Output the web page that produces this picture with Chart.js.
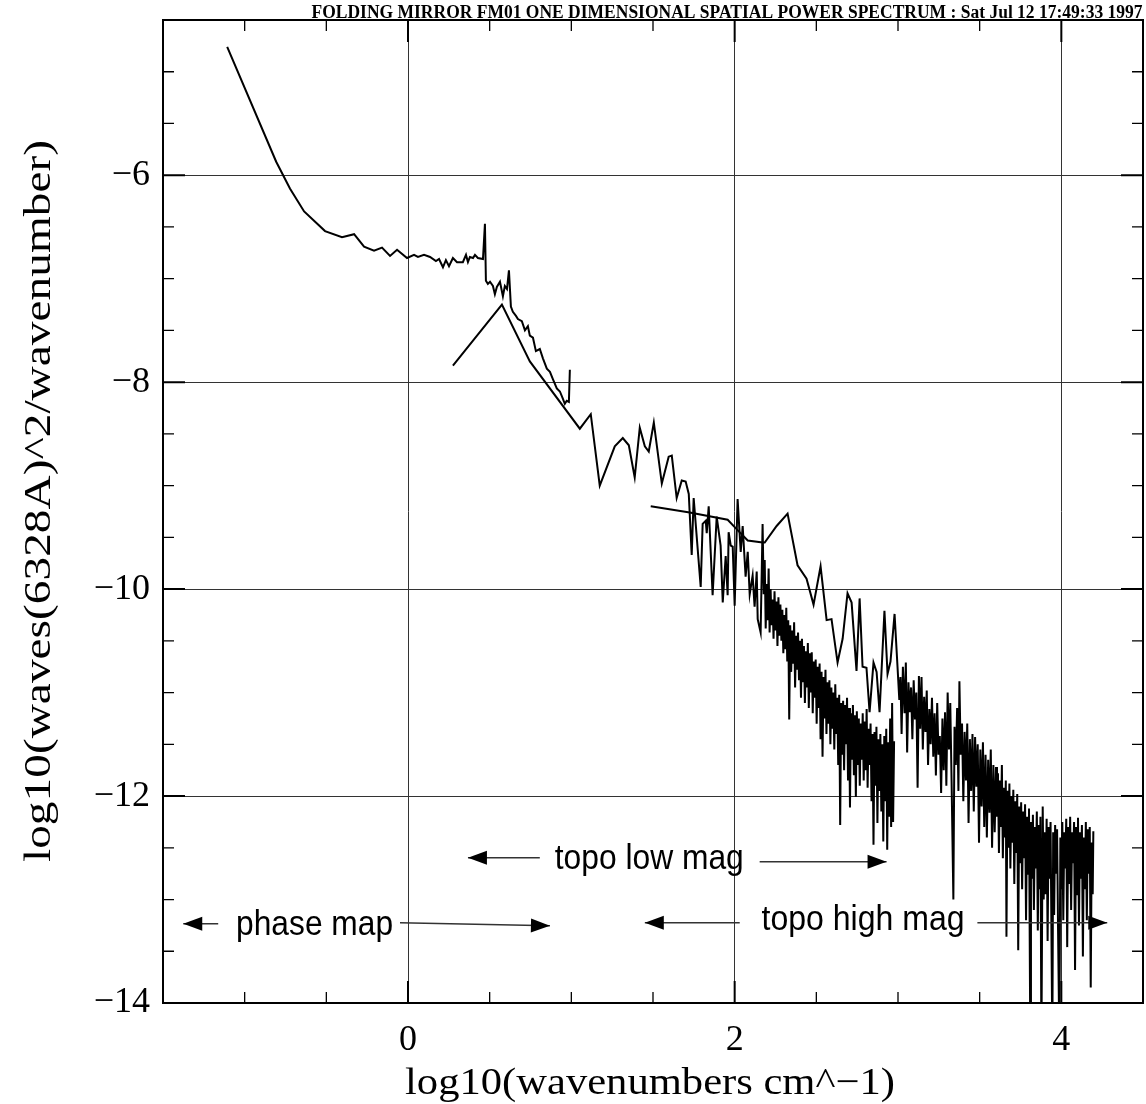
<!DOCTYPE html>
<html>
<head>
<meta charset="utf-8">
<title>FM01 spatial power spectrum</title>
<script src="https://cdn.jsdelivr.net/npm/chart.js@4.4.0/dist/chart.umd.min.js"></script>
<style>
  html, body { margin: 0; padding: 0; background: #fff; }
  #wrap { width: 1146px; height: 1104px; position: relative; }
</style>
</head>
<body>
<div id="wrap"><canvas id="spectrum"></canvas></div>
<script>
// [log10(wavenumber), log10(power)]
const phaseMap = [
  [-1.107,-4.76],[-0.807,-5.87],[-0.722,-6.13],[-0.636,-6.35],[-0.508,-6.54],[-0.404,-6.60],[-0.330,-6.57],
  [-0.269,-6.69],[-0.208,-6.73],[-0.159,-6.70],[-0.110,-6.78],[-0.067,-6.72],[-0.006,-6.80],[0.037,-6.77],
  [0.061,-6.79],[0.098,-6.77],[0.135,-6.79],[0.171,-6.83],[0.190,-6.81],[0.214,-6.89],[0.232,-6.82],
  [0.251,-6.88],[0.275,-6.80],[0.300,-6.84],[0.336,-6.84],[0.355,-6.77],[0.367,-6.84],[0.379,-6.79],
  [0.398,-6.80],[0.410,-6.77],[0.428,-6.80],[0.459,-6.81],[0.471,-6.47],[0.477,-7.02],[0.489,-7.05],
  [0.502,-7.03],[0.520,-7.07],[0.532,-7.15],[0.544,-7.08],[0.563,-7.03],[0.581,-7.17],[0.593,-7.07],
  [0.606,-7.10],[0.618,-6.92],[0.630,-7.27],[0.642,-7.32],[0.661,-7.36],[0.673,-7.39],[0.697,-7.41],
  [0.716,-7.50],[0.734,-7.46],[0.746,-7.55],[0.765,-7.57],[0.783,-7.70],[0.807,-7.68],[0.826,-7.77],
  [0.850,-7.87],[0.869,-7.90],[0.887,-7.97],[0.911,-8.06],[0.930,-8.09],[0.948,-8.16],[0.960,-8.21],
  [0.972,-8.18],[0.985,-8.19],[0.991,-7.88]
];

const topoLowMag = [
  [0.275,-7.84],[0.575,-7.25],[0.746,-7.80],[1.052,-8.45],[1.119,-8.31],[1.174,-9.00],[1.266,-8.62],
  [1.315,-8.54],[1.352,-8.61],[1.388,-8.92],[1.419,-8.44],[1.450,-8.62],[1.474,-8.67],[1.505,-8.39],
  [1.554,-8.98],[1.596,-8.72],[1.615,-8.71],[1.645,-9.12],[1.676,-8.95],[1.700,-8.96],[1.719,-9.08],
  [1.737,-9.67],[1.749,-9.12],[1.792,-9.98],[1.804,-9.37],[1.823,-9.34],[1.829,-9.46],[1.841,-9.20],
  [1.865,-10.06],[1.890,-9.30],[1.914,-9.58],[1.927,-10.13],[1.945,-9.68],[1.957,-10.06],[1.963,-9.45],
  [1.976,-9.58],[1.988,-9.59],[2.000,-10.16],[2.018,-9.13],[2.037,-9.64],[2.049,-9.39],[2.067,-9.88],
  [2.080,-9.64],[2.092,-10.05],[2.110,-9.87],[2.122,-10.17],[2.135,-9.83],[2.141,-10.29],[2.159,-10.42],
  [2.171,-9.37],[2.178,-10.05],[2.184,-9.72],[2.190,-10.38],[2.196,-9.95],[2.202,-10.30],[2.208,-9.80],
  [2.214,-10.42],[2.220,-10.00],[2.226,-10.35],[2.232,-10.10],[2.238,-10.48],[2.244,-10.02],[2.250,-10.40],
  [2.256,-10.12],[2.262,-10.55],[2.268,-10.08],[2.274,-10.45],[2.280,-10.15],[2.286,-10.50],[2.292,-10.20],
  [2.298,-10.62],[2.304,-10.25],[2.310,-10.58],[2.316,-10.18],[2.322,-10.70],[2.328,-10.30],[2.334,-11.26],
  [2.340,-10.35],[2.346,-10.80],[2.352,-10.40],[2.358,-10.72],[2.364,-10.32],[2.370,-10.95],[2.376,-10.45],
  [2.382,-10.78],[2.388,-10.42],[2.394,-10.88],[2.400,-10.50],[2.406,-11.05],[2.412,-10.48],[2.418,-10.90],
  [2.424,-10.55],[2.430,-11.10],[2.436,-10.60],[2.442,-10.95],[2.448,-10.52],[2.454,-11.15],[2.460,-10.62],
  [2.466,-11.00],[2.472,-10.61],[2.478,-11.20],[2.484,-10.70],[2.490,-11.05],[2.496,-10.68],[2.502,-11.30],
  [2.508,-10.75],[2.514,-11.15],[2.520,-10.72],[2.526,-11.45],[2.532,-10.80],[2.538,-11.62],[2.544,-10.85],
  [2.550,-11.25],[2.556,-10.78],[2.562,-11.40],[2.568,-10.90],[2.574,-11.30],[2.580,-10.88],[2.586,-11.50],
  [2.592,-10.95],[2.598,-11.35],[2.604,-11.00],[2.610,-11.55],[2.616,-10.92],[2.622,-11.40],[2.628,-11.05],
  [2.634,-11.70],[2.640,-11.02],[2.646,-12.28],[2.652,-11.10],[2.658,-11.60],[2.664,-11.08],[2.670,-11.75],
  [2.676,-11.12],[2.682,-11.50],[2.688,-11.05],[2.694,-11.85],[2.700,-11.15],[2.706,-12.11],[2.712,-11.20],
  [2.718,-11.65],[2.724,-11.12],[2.730,-11.80],[2.736,-11.22],[2.742,-12.01],[2.748,-11.18],[2.754,-11.70],
  [2.760,-11.25],[2.766,-11.90],[2.772,-11.30],[2.778,-11.65],[2.784,-11.20],[2.790,-11.85],[2.796,-11.28],
  [2.802,-11.75],[2.808,-11.16],[2.814,-11.92],[2.820,-11.35],[2.826,-11.70],[2.832,-11.30],[2.838,-12.05],
  [2.844,-11.40],[2.850,-12.47],[2.856,-11.38],[2.862,-11.90],[2.868,-11.33],[2.874,-12.26],[2.880,-11.45],
  [2.886,-11.95],[2.892,-11.40],[2.898,-12.15],[2.904,-11.50],[2.910,-12.44],[2.916,-11.42],[2.922,-12.05],
  [2.928,-11.35],[2.934,-12.52],[2.940,-11.48],[2.946,-12.20],[2.952,-11.25],[2.958,-12.30],[2.964,-11.10],
  [2.970,-12.25],[2.976,-11.47]
];

const topoHighMag = [
  [1.486,-9.20],[1.725,-9.26],[1.957,-9.33],[2.012,-9.42],[2.080,-9.53],[2.171,-9.55],[2.184,-9.55],
  [2.257,-9.39],[2.324,-9.27],[2.385,-9.77],[2.440,-9.90],[2.483,-10.15],[2.526,-9.78],[2.563,-10.30],
  [2.593,-10.29],[2.630,-10.71],[2.661,-10.48],[2.691,-10.04],[2.716,-10.13],[2.746,-10.79],[2.765,-10.09],
  [2.783,-10.75],[2.807,-10.76],[2.826,-11.19],[2.850,-10.71],[2.869,-10.80],[2.887,-11.19],[2.917,-10.21],
  [2.936,-10.82],[2.954,-10.70],[2.979,-10.24],[2.997,-10.75],[3.008,-11.07],[3.015,-10.85],[3.022,-11.40],
  [3.030,-10.75],[3.040,-11.20],[3.048,-10.71],[3.056,-11.58],[3.064,-10.90],[3.072,-11.19],[3.080,-10.95],
  [3.088,-11.45],[3.096,-10.88],[3.104,-11.26],[3.112,-11.00],[3.120,-11.92],[3.128,-10.84],[3.136,-11.35],
  [3.144,-10.85],[3.152,-11.55],[3.160,-11.04],[3.168,-11.38],[3.176,-10.98],[3.184,-11.70],[3.192,-11.16],
  [3.200,-11.50],[3.208,-11.05],[3.216,-11.62],[3.224,-11.20],[3.232,-11.80],[3.240,-11.10],[3.248,-11.60],
  [3.256,-11.42],[3.264,-11.97],[3.272,-11.25],[3.280,-11.75],[3.288,-11.19],[3.296,-11.90],[3.304,-11.00],
  [3.312,-11.55],[3.320,-11.10],[3.328,-11.85],[3.339,-13.00],[3.346,-11.33],[3.354,-11.70],[3.362,-11.15],
  [3.370,-11.95],[3.376,-10.89],[3.384,-11.60],[3.392,-11.30],[3.400,-12.05],[3.408,-11.38],[3.416,-11.85],
  [3.424,-11.30],[3.432,-12.26],[3.440,-11.45],[3.448,-11.95],[3.456,-11.40],[3.464,-12.15],[3.472,-11.43],
  [3.480,-11.91],[3.488,-11.50],[3.496,-12.45],[3.504,-11.55],[3.512,-12.10],[3.520,-11.48],[3.528,-12.30],
  [3.536,-11.60],[3.544,-12.40],[3.552,-11.65],[3.560,-12.16],[3.568,-11.55],[3.576,-12.50],[3.584,-11.70],
  [3.592,-12.35],[3.600,-11.72],[3.606,-12.20],[3.612,-11.78],[3.618,-12.55],[3.624,-11.85],[3.630,-12.30],
  [3.636,-11.70],[3.642,-12.60],[3.648,-11.92],[3.654,-12.40],[3.660,-11.85],[3.664,-13.36],[3.670,-11.95],
  [3.676,-12.50],[3.682,-11.88],[3.688,-12.70],[3.694,-12.00],[3.700,-12.45],[3.706,-11.94],[3.712,-12.85],
  [3.718,-12.05],[3.724,-12.55],[3.730,-11.98],[3.736,-13.49],[3.742,-12.10],[3.748,-12.65],[3.754,-12.06],
  [3.760,-12.90],[3.766,-12.15],[3.772,-12.60],[3.778,-12.08],[3.784,-13.20],[3.790,-12.20],[3.796,-12.75],
  [3.802,-12.12],[3.810,-14.40],[3.814,-12.25],[3.820,-12.80],[3.826,-12.18],[3.832,-13.10],[3.838,-12.30],
  [3.844,-12.70],[3.850,-12.15],[3.856,-13.30],[3.862,-12.28],[3.868,-12.90],[3.872,-12.20],[3.878,-14.40],
  [3.886,-12.10],[3.892,-13.00],[3.898,-12.35],[3.904,-12.95],[3.910,-12.22],[3.916,-13.40],[3.922,-12.30],
  [3.928,-12.80],[3.934,-12.25],[3.945,-14.40],[3.950,-12.35],[3.956,-13.15],[3.962,-12.28],[3.968,-12.75],
  [3.974,-12.32],[3.980,-13.30],[3.988,-14.40],[3.994,-12.40],[4.000,-12.90],[4.006,-12.25],[4.012,-13.20],
  [4.018,-12.35],[4.024,-12.70],[4.030,-12.22],[4.036,-13.46],[4.042,-12.30],[4.048,-12.85],[4.054,-12.20],
  [4.060,-13.10],[4.066,-12.35],[4.072,-12.65],[4.078,-12.25],[4.084,-13.68],[4.090,-12.30],[4.096,-12.95],
  [4.102,-12.21],[4.108,-13.25],[4.114,-12.35],[4.120,-12.80],[4.126,-12.28],[4.132,-13.55],[4.138,-12.40],
  [4.144,-12.90],[4.150,-12.25],[4.156,-13.20],[4.162,-12.32],[4.168,-12.75],[4.174,-12.30],[4.180,-13.85],
  [4.186,-12.45],[4.192,-12.95],[4.196,-12.34]
];

// axes
const xLabelTicks = [0, 2, 4];
const yLabelTicks = [-14, -12, -10, -8, -6];
const xSmallTicks = [-1, -0.5, 0, 0.5, 1, 1.5, 2, 2.5, 3, 3.5, 4];
const ySmallTicks = [-13.5, -13, -12.5, -12, -11.5, -11, -10.5, -10, -9.5, -9, -8.5, -8, -7.5, -7, -6.5, -6, -5.5, -5];

const headerText = 'FOLDING MIRROR FM01 ONE DIMENSIONAL SPATIAL POWER SPECTRUM : Sat Jul 12 17:49:33 1997';
const xTitle = 'log10(wavenumbers cm^\u22121)';
const yTitle = 'log10(waves(6328A)^2/wavenumber)';

// range labels with their arrows (data coords: text centre, arrows as [fromX, fromY, toX, toY])
const rangeNotes = [
  { text: 'phase map', x: -0.572, y: -13.25, width: 157,
    arrows: [[-1.162, -13.235, -1.376, -13.235], [-0.049, -13.225, 0.869, -13.254]] },
  { text: 'topo low mag', x: 1.477, y: -12.615, width: 189,
    arrows: [[0.807, -12.596, 0.367, -12.596], [2.153, -12.634, 2.930, -12.634]] },
  { text: 'topo high mag', x: 2.786, y: -13.206, width: 203,
    arrows: [[2.031, -13.225, 1.450, -13.225], [3.486, -13.225, 4.281, -13.225]] }
];

const toPoints = arr => arr.map(p => ({ x: p[0], y: p[1] }));
const minusLabel = v => (v < 0 ? '\u2212' + Math.abs(v) : String(v));

function fitText(ctx, text, cx, cy, width) {
  const w = ctx.measureText(text).width;
  ctx.save();
  ctx.translate(cx, cy);
  ctx.scale(width / w, 1);
  ctx.fillText(text, 0, 0);
  ctx.restore();
}

const decorations = {
  id: 'decorations',
  afterDraw(chart) {
    const ctx = chart.ctx;
    const a = chart.chartArea;
    const sx = chart.scales.x, sy = chart.scales.y;
    ctx.save();

    // frame
    ctx.strokeStyle = '#000';
    ctx.lineWidth = 2;
    ctx.strokeRect(a.left, a.top, a.right - a.left, a.bottom - a.top);

    // inward ticks on all four sides
    xSmallTicks.forEach(v => {
      const p = sx.getPixelForValue(v);
      const big = xLabelTicks.includes(v);
      const len = big ? 22 : 11;
      ctx.lineWidth = big ? 2 : 1.3;
      ctx.beginPath();
      ctx.moveTo(p, a.bottom); ctx.lineTo(p, a.bottom - len);
      ctx.moveTo(p, a.top); ctx.lineTo(p, a.top + len);
      ctx.stroke();
    });
    ySmallTicks.forEach(v => {
      const p = sy.getPixelForValue(v);
      const big = yLabelTicks.includes(v);
      const len = big ? 22 : 11;
      ctx.lineWidth = big ? 2 : 1.3;
      ctx.beginPath();
      ctx.moveTo(a.left, p); ctx.lineTo(a.left + len, p);
      ctx.moveTo(a.right, p); ctx.lineTo(a.right - len, p);
      ctx.stroke();
    });

    // tick labels
    ctx.fillStyle = '#000';
    ctx.font = '36px "Liberation Serif"';
    ctx.textBaseline = 'middle';
    ctx.textAlign = 'right';
    yLabelTicks.forEach(v => ctx.fillText(minusLabel(v), a.left - 13, sy.getPixelForValue(v)));
    ctx.textAlign = 'center';
    xLabelTicks.forEach(v => ctx.fillText(minusLabel(v), sx.getPixelForValue(v), a.bottom + 38));

    // axis titles
    ctx.font = '38px "Liberation Serif"';
    fitText(ctx, xTitle, 650, 1084, 490);
    ctx.save();
    ctx.translate(40, 501);
    ctx.rotate(-Math.PI / 2);
    fitText(ctx, yTitle, 0, 0, 722);
    ctx.restore();

    // header
    ctx.font = 'bold 18px "Liberation Serif"';
    ctx.textBaseline = 'alphabetic';
    fitText(ctx, headerText, 727, 18, 831);

    // range notes
    ctx.font = '35px "Liberation Sans"';
    ctx.textBaseline = 'middle';
    rangeNotes.forEach(n => {
      fitText(ctx, n.text, sx.getPixelForValue(n.x), sy.getPixelForValue(n.y), n.width);
      n.arrows.forEach(ar => {
        const x1 = sx.getPixelForValue(ar[0]), y1 = sy.getPixelForValue(ar[1]);
        const x2 = sx.getPixelForValue(ar[2]), y2 = sy.getPixelForValue(ar[3]);
        const ang = Math.atan2(y2 - y1, x2 - x1);
        ctx.strokeStyle = '#333';
        ctx.lineWidth = 1.5;
        ctx.beginPath(); ctx.moveTo(x1, y1); ctx.lineTo(x2, y2); ctx.stroke();
        ctx.fillStyle = '#000';
        ctx.beginPath();
        ctx.moveTo(x2, y2);
        ctx.lineTo(x2 - 19 * Math.cos(ang) + 7 * Math.sin(ang), y2 - 19 * Math.sin(ang) - 7 * Math.cos(ang));
        ctx.lineTo(x2 - 19 * Math.cos(ang) - 7 * Math.sin(ang), y2 - 19 * Math.sin(ang) + 7 * Math.cos(ang));
        ctx.closePath();
        ctx.fill();
      });
    });
    ctx.restore();
  }
};

const lineStyle = { showLine: true, borderColor: '#000', borderWidth: 2, pointRadius: 0, fill: false, tension: 0 };

new Chart(document.getElementById('spectrum'), {
  type: 'scatter',
  data: {
    datasets: [
      { label: 'phase map', data: toPoints(phaseMap), ...lineStyle },
      { label: 'topo low mag', data: toPoints(topoLowMag), ...lineStyle },
      { label: 'topo high mag', data: toPoints(topoHighMag), ...lineStyle }
    ]
  },
  options: {
    responsive: true,
    maintainAspectRatio: false,
    animation: false,
    layout: { padding: { top: 20, right: 3, left: 0, bottom: 0 } },
    plugins: { legend: { display: false }, tooltip: { enabled: false }, title: { display: false } },
    scales: {
      x: {
        type: 'linear', min: -1.5, max: 4.5,
        afterBuildTicks: s => { s.ticks = xLabelTicks.map(v => ({ value: v })); },
        afterFit: s => { s.height = 101; },
        ticks: { display: false },
        grid: { color: '#333', lineWidth: 1, drawTicks: false },
        border: { display: false }
      },
      y: {
        type: 'linear', min: -14, max: -4.5,
        afterBuildTicks: s => { s.ticks = yLabelTicks.map(v => ({ value: v })); },
        afterFit: s => { s.width = 163; },
        ticks: { display: false },
        grid: { color: '#333', lineWidth: 1, drawTicks: false },
        border: { display: false }
      }
    }
  },
  plugins: [decorations]
});
</script>
</body>
</html>
